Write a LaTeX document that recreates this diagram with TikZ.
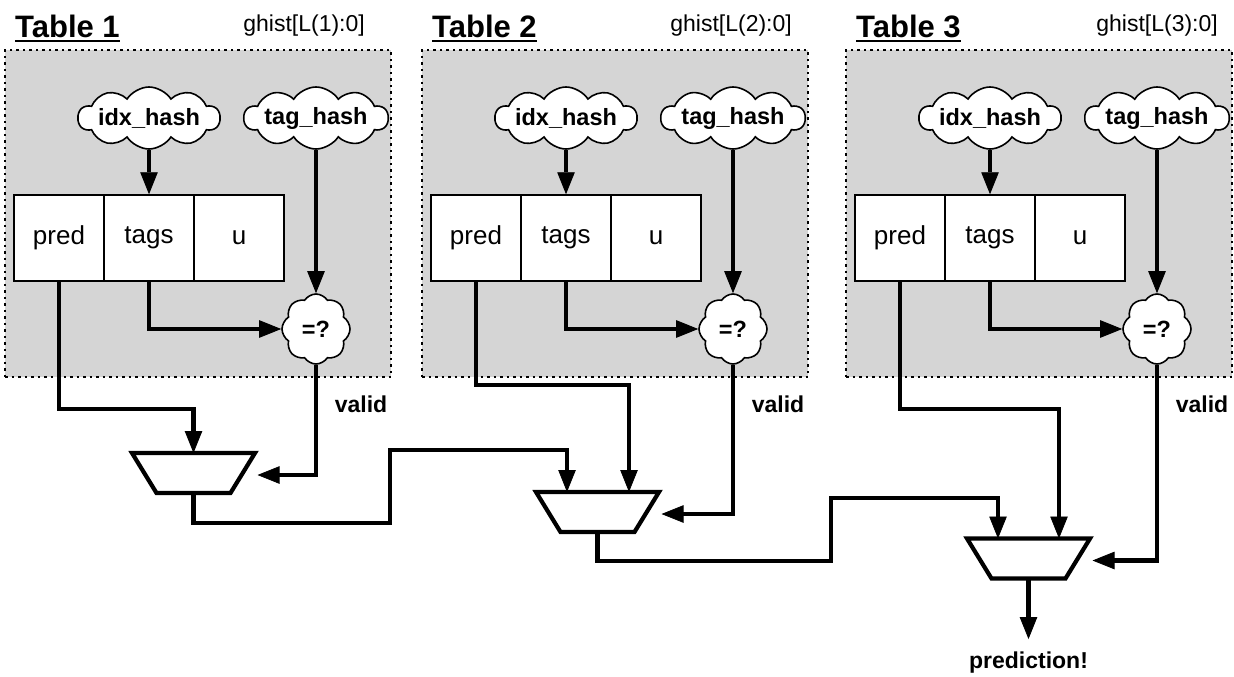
\documentclass[tikz,border=0pt]{standalone}
\usepackage{fontspec}
\setmainfont{Liberation Sans}
\usetikzlibrary{shapes.symbols,arrows.meta}
\definecolor{panelgray}{RGB}{213,213,213}
\begin{document}
\begin{tikzpicture}[x=1pt,y=-1pt,
  panel/.style={fill=panelgray, draw=black, line width=1.5pt, dash pattern=on 2.5pt off 4pt, minimum width=386pt, minimum height=327pt, inner sep=0},
  cell/.style={draw, fill=white, line width=1.5pt, minimum width=90pt, minimum height=86pt, inner sep=0, font=\fontsize{26}{26}\selectfont},
  hashcloud/.style={cloud, cloud puffs=10, cloud puff arc=115, cloud ignores aspect, draw, fill=white, line width=1.6pt, minimum width=137pt, minimum height=62pt, inner sep=0, font=\fontsize{23.5}{23.5}\selectfont\bfseries},
  eqcloud/.style={hashcloud, cloud puffs=8, minimum width=68pt, minimum height=70pt},
  muxbox/.style={rectangle, draw=none, minimum width=123pt, minimum height=40pt, inner sep=0, outer sep=0},
  muxline/.style={draw=black, fill=white, line width=4.2pt, line join=miter},
  wire/.style={line width=4.2pt, line join=miter},
  arr/.style={wire, -{Triangle[length=22pt,width=17.5pt,line width=0.8pt]}},
  title/.style={font=\fontsize{31}{31}\selectfont\bfseries, inner sep=0, anchor=base west},
  hist/.style={font=\fontsize{23}{23}\selectfont, inner sep=0, anchor=base east},
  lbl/.style={font=\fontsize{23}{23}\selectfont\bfseries, inner sep=0},
]
\useasboundingbox (0,0) rectangle (1234,677);

\foreach \i/\dx/\gx in {1/0/365, 2/417/792, 3/841/1218}{
  \node[panel] (bg\i) at (198+\dx,213.5) {};
  \node[title] (t\i) at (15+\dx,37.5) {Table \i};
  \draw[line width=2pt] ([yshift=-3.5pt]t\i.base west) -- ([yshift=-3.5pt]t\i.base east);
  \node[hist] (g\i) at (\gx,32) {ghist[L(\i):0]};
  \node[hashcloud] (idx\i) at (149+\dx,118) {idx\_hash};
  \node[hashcloud] (tag\i) at (316+\dx,118) {tag\_hash};
  \node[eqcloud] (eq\i) at (316+\dx,329) {=?};
  \node[cell] (pred\i) at (59+\dx,238) {pred};
  \node[cell] (tags\i) at (149+\dx,238) {tags};
  \node[cell] (u\i) at (239+\dx,238) {u};
  \node[lbl] (v\i) at (361+\dx,404) {valid};
  \draw[arr] (idx\i.south) -- (tags\i.north);
  \draw[arr] (tag\i.south) -- (eq\i.north);
  \draw[arr] (tags\i.south) |- (eq\i.west);
}

\node[muxbox] (m1) at (193.5,473) {};
\node[muxbox] (m2) at (597.5,512) {};
\node[muxbox] (m3) at (1028.5,558.5) {};
\foreach \i in {1,2,3}{
  \draw[muxline] (m\i.north west) -- (m\i.north east) -- ([xshift=-24.5pt]m\i.south east) -- ([xshift=24.5pt]m\i.south west) -- cycle;
}
\node[lbl] (pr) at (1028.5,663) {prediction!};

\coordinate (m2a) at ([xshift=-30.5pt]m2.north);
\coordinate (m2b) at ([xshift=31.5pt]m2.north);
\coordinate (m3a) at ([xshift=-30.5pt]m3.north);
\coordinate (m3b) at ([xshift=30.5pt]m3.north);
\foreach \i in {1,2,3}{
  \coordinate (vin\i) at ([xshift=64pt,yshift=-2pt]m\i.center);
  \draw[arr] (eq\i.south) |- (vin\i);
}

\draw[arr] (pred1.south) -- (pred1.south |- 0,409) -| (m1.north);
\draw[arr] (pred2.south) -- (pred2.south |- 0,385) -| (m2b);
\draw[arr] (pred3.south) -- (pred3.south |- 0,409) -| (m3b);

\draw[arr] (m1.south) |- (390,523) |- (m2a |- 0,450) -- (m2a);
\draw[arr] (m2.south) |- (831,561) |- (m3a |- 0,498) -- (m3a);
\draw[arr, shorten >=13pt] (m3.south) -- (pr.north);
\end{tikzpicture}
\end{document}
